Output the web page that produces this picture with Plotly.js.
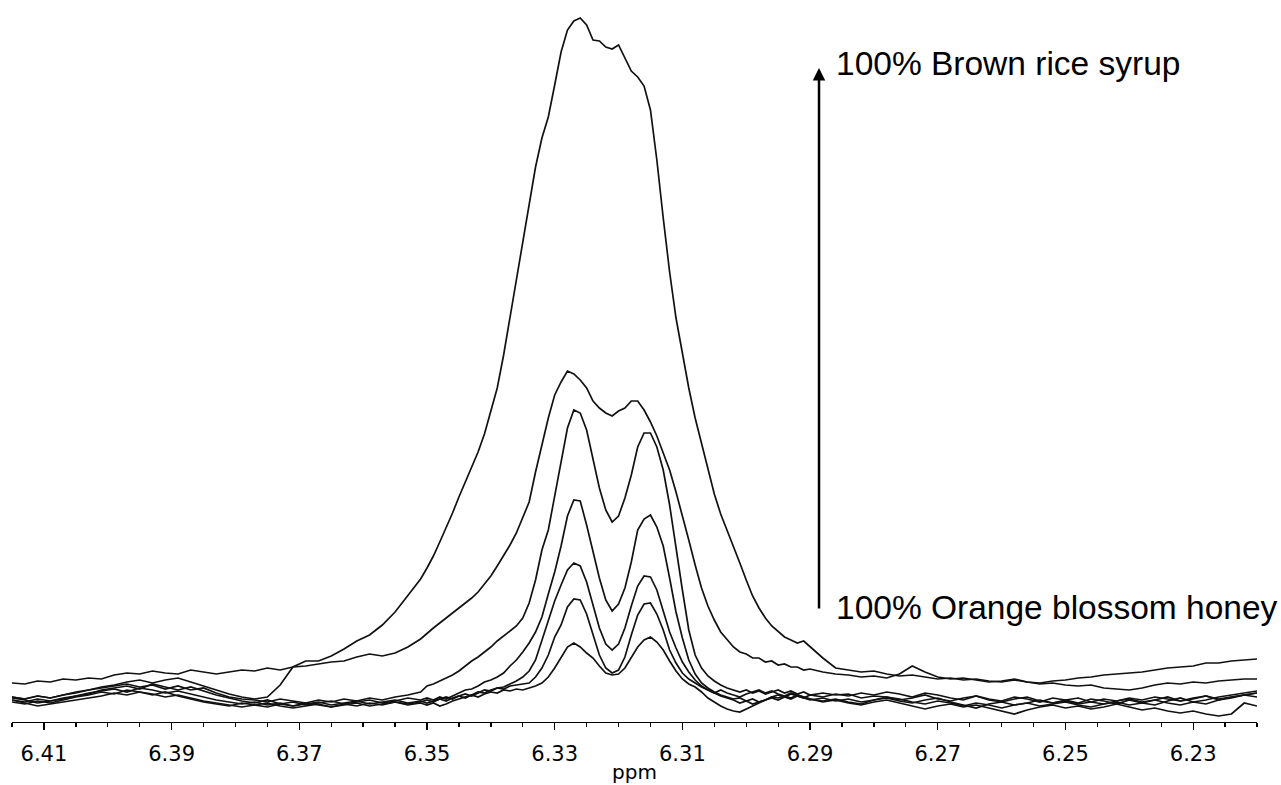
<!DOCTYPE html>
<html>
<head>
<meta charset="utf-8">
<script src="https://cdn.plot.ly/plotly-3.0.1.min.js"></script>
<style>html,body{margin:0;padding:0;background:#fff;}#chart{width:1281px;height:785px;}</style>
</head>
<body>
<div id="chart"></div>
<script>
// Chemical shift grid (ppm)
const ppm = [
  6.415,6.413,6.411,6.409,6.407,6.405,6.403,6.401,6.399,6.397,6.395,6.393,6.391,6.389,6.387,6.385,6.383,
  6.381,6.379,6.377,6.375,6.373,6.371,6.369,6.367,6.365,6.363,6.361,6.359,6.357,6.355,6.353,6.351,
  6.350,6.349,6.348,6.347,6.346,6.345,6.344,6.343,6.342,6.341,6.340,6.339,6.338,6.337,6.336,6.335,
  6.334,6.333,6.332,6.331,6.330,6.329,6.328,6.327,6.326,6.325,6.324,6.323,6.322,6.321,6.320,6.319,
  6.318,6.317,6.316,6.315,6.314,6.313,6.312,6.311,6.310,6.309,6.308,6.307,6.306,6.305,6.304,6.303,
  6.302,6.301,6.300,6.299,6.298,6.297,6.296,6.295,6.294,6.293,6.292,6.291,6.290,
  6.288,6.286,6.284,6.282,6.280,6.278,6.276,6.274,6.272,6.270,6.268,6.266,6.264,6.262,6.260,6.258,
  6.256,6.254,6.252,6.250,6.248,6.246,6.244,6.242,6.240,6.238,6.236,6.234,6.232,6.230,6.228,6.226,
  6.224,6.222,6.220
];

// Intensities (arbitrary units), one spectrum per blend
const brownRice100 = [25,23,26,24,27,30,32,35,37,40,42,39,42,44,40,36,32,28,25,23,25,37,55,61,61,66,73,81,87,97,110,126,143,
154,166,180,194,209,225,240,255,270,288,310,334,367,404,442,479,519,555,584,605,637,670,692,701,704,697,682,681,675,673,677,664,651,645,636,612,562,504,450,404,367,334,304,278,252,228,208,192,177,159,142,126,114,104,96,90,85,82,79,81,75,
64,54,52,50,51,48,46,47,45,43,44,42,43,41,40,42,40,39,41,42,44,45,47,48,49,50,52,54,55,56,59,59,61,62,63];

const blend2 = [39,38,41,40,43,42,44,43,47,49,48,51,49,48,52,50,48,50,52,51,54,52,55,56,58,60,61,65,68,66,69,75,83,
89,94,99,104,109,114,119,124,130,138,146,156,166,177,189,204,220,250,277,304,327,340,351,348,342,334,321,314,309,306,311,314,321,321,312,300,286,270,252,230,207,182,157,134,116,102,90,82,75,70,68,64,64,60,61,57,58,55,55,52,53,
50,48,47,45,46,44,48,56,50,45,43,44,42,40,41,43,40,38,39,37,36,37,34,33,32,34,37,39,38,40,39,41,42,43,43];

const blend3 = [25,23,26,24,27,29,32,34,36,38,35,37,33,36,32,34,29,25,23,22,20,23,21,19,22,20,23,21,24,22,25,27,30,
36,38,41,44,47,51,56,61,65,70,75,81,86,91,96,104,119,142,172,192,225,262,294,312,309,292,262,234,212,200,206,224,247,275,289,289,275,252,217,172,132,92,67,54,46,41,37,34,32,30,32,29,31,28,30,32,29,31,28,30,27,
29,27,28,24,26,25,22,24,27,23,21,24,26,22,20,23,25,21,19,22,24,20,18,21,23,20,22,25,21,23,26,22,24,27,29];

const blend4 = [22,20,23,21,24,26,28,32,34,36,33,38,35,32,35,31,27,24,21,19,22,18,20,17,19,21,18,20,22,19,21,24,22,
24,22,25,23,26,29,32,33,36,40,42,45,49,56,62,70,79,90,105,128,150,176,206,222,221,197,172,144,122,111,118,134,160,192,203,207,195,176,144,110,84,62,48,39,34,30,27,25,23,24,21,23,20,22,24,22,25,23,26,24,27,
25,28,26,29,27,30,28,25,29,27,24,22,26,23,21,25,23,20,24,22,19,23,21,18,22,19,17,21,24,20,22,25,27,29,31];

const blend5 = [24,22,19,21,23,26,29,31,33,30,34,32,29,31,28,25,22,20,18,20,17,19,16,18,20,17,19,21,18,20,22,19,21,
19,21,23,21,24,26,24,27,30,29,32,34,35,38,41,45,51,62,81,100,121,137,152,159,156,140,117,94,78,72,78,94,116,136,146,145,132,110,90,74,60,50,42,36,32,29,26,24,22,19,21,18,20,22,25,27,25,28,26,24,22,
24,21,23,20,22,25,23,20,18,21,19,16,19,17,14,17,19,22,19,21,18,20,23,21,24,22,25,23,21,24,26,23,25,27,25];

const blend6 = [20,18,21,19,22,25,27,30,28,32,30,27,30,26,23,20,18,16,19,17,15,18,16,19,17,15,18,16,19,17,20,18,20,
22,20,23,25,23,26,28,26,29,32,31,34,33,36,37,38,39,45,54,67,85,97,115,123,122,108,87,67,54,49,52,65,87,107,118,119,108,92,72,59,49,43,39,35,32,29,32,29,27,25,28,30,32,29,31,28,26,29,27,25,23,
21,23,20,18,22,24,21,19,22,24,20,17,14,18,20,17,19,16,18,20,17,15,18,20,17,19,22,19,17,20,18,22,25,27,29];

const orangeHoney100 = [22,19,16,18,20,22,24,26,29,27,30,28,25,27,24,21,19,17,15,17,19,16,14,16,18,15,17,19,16,18,20,17,19,
17,19,16,18,21,23,25,27,25,28,30,29,32,31,33,32,34,36,39,45,54,65,75,79,75,69,64,56,49,47,48,54,64,75,82,85,80,72,61,51,43,38,35,30,24,20,16,13,11,10,13,16,19,22,25,24,26,24,27,25,23,
20,22,19,17,20,22,19,16,13,16,18,15,17,14,11,8,12,15,17,14,16,13,15,18,15,12,14,11,9,11,8,6,8,19,16];

const spectra = [brownRice100, blend2, blend3, blend4, blend5, blend6, orangeHoney100];
const labelTop = '100% Brown rice syrup';
const labelBottom = '100% Orange blossom honey';
const axisTitle = 'ppm';

const traces = spectra.map(function (s) {
  return {
    x: ppm, y: s, type: 'scatter', mode: 'lines',
    line: {color: '#111', width: 1.7},
    hoverinfo: 'skip'
  };
});

const tickFont = {family: 'DejaVu Sans, Verdana, sans-serif', size: 21, color: '#000'};
const titleFont = {family: 'DejaVu Sans, Verdana, sans-serif', size: 20, color: '#000'};
const labelFont = {family: 'Liberation Sans, Arial, sans-serif', size: 33.5, color: '#000'};

const layout = {
  width: 1281, height: 785,
  margin: {l: 12, r: 24, t: 0, b: 63, pad: 0},
  paper_bgcolor: '#fff', plot_bgcolor: '#fff',
  showlegend: false,
  xaxis: {
    range: [6.415, 6.22], tickmode: 'linear', tick0: 6.23, dtick: 0.02, tickformat: '.2f',
    ticks: 'outside', ticklen: 7, tickwidth: 1.3, tickcolor: '#000',
    showline: true, linecolor: '#000', linewidth: 1.3,
    showgrid: false, zeroline: false, automargin: false,
    tickfont: tickFont, ticklabelstandoff: 5,
    minor: {dtick: 0.005, tick0: 6.23, ticks: 'outside', ticklen: 4, tickwidth: 1.3, tickcolor: '#000', showgrid: false},
    title: {text: axisTitle, font: titleFont, standoff: 0}
  },
  yaxis: {visible: false, range: [0, 722], fixedrange: true},
  annotations: [
    {x: 6.2886, y: 654, xref: 'x', yref: 'y', ax: 6.2886, ay: 112, axref: 'x', ayref: 'y',
     text: '', showarrow: true, arrowhead: 2, arrowsize: 1, arrowwidth: 2.5, arrowcolor: '#000'},
    {x: 6.2862, y: 659, xref: 'x', yref: 'y', xanchor: 'left', yanchor: 'middle',
     text: labelTop, showarrow: false, font: labelFont},
    {x: 6.2862, y: 115, xref: 'x', yref: 'y', xanchor: 'left', yanchor: 'middle',
     text: labelBottom, showarrow: false, font: labelFont}
  ]
};

Plotly.newPlot('chart', traces, layout, {displayModeBar: false, staticPlot: true});
</script>
</body>
</html>
